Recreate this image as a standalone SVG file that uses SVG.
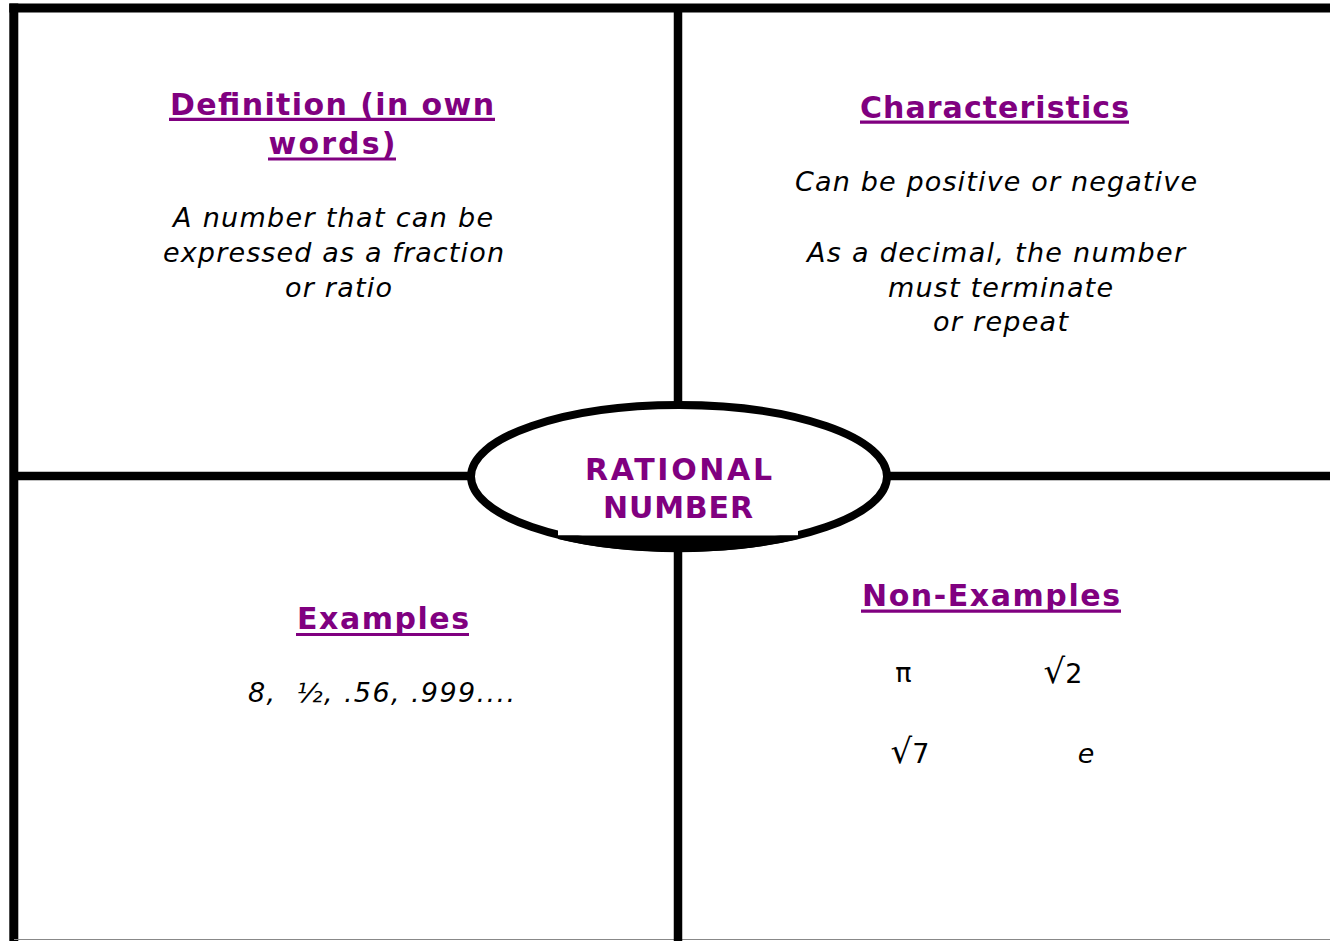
<svg xmlns="http://www.w3.org/2000/svg" width="1330" height="941" viewBox="0 0 1330 941">
<style>
.frame{stroke:#000;stroke-width:9;fill:none}
.div{stroke:#000;stroke-width:8.5;fill:none}
.head{font-family:"DejaVu Sans","Verdana",sans-serif;font-weight:bold;font-size:30px;fill:#800080;text-anchor:middle}
.ul{stroke:#800080;stroke-width:3.2}
.body{font-family:"DejaVu Sans","Verdana",sans-serif;font-style:italic;font-size:27px;fill:#000;text-anchor:middle}
.sym{font-family:"DejaVu Sans","Verdana",sans-serif;font-size:27px;fill:#000;text-anchor:middle}
.rad{font-size:34px}
</style>
<rect x="0" y="0" width="1330" height="941" fill="#fff"/>
<g id="connectors">
<line class="frame" x1="9.3" y1="8" x2="1330" y2="8"/>
<line class="frame" x1="13.8" y1="3.5" x2="13.8" y2="941"/>
<line x1="14" y1="939.5" x2="1330" y2="939.5" stroke="#888" stroke-width="1"/>
<line class="div" x1="678" y1="8" x2="678" y2="410"/>
<line class="div" x1="678" y1="545" x2="678" y2="941"/>
<line class="div" x1="14" y1="476" x2="475" y2="476"/>
<line class="div" x1="884" y1="476" x2="1330" y2="476"/>
</g>
<g id="center">
<ellipse cx="679" cy="476.5" rx="208" ry="71.5" fill="#fff" stroke="#000" stroke-width="8"/>
<rect x="558" y="522" width="240" height="13.5" fill="#fff"/>
<path d="M558,535.5 L798,535.5 L798,539 A212,75.5 0 0 1 558,539 Z" fill="#000"/>
<text class="head" x="678.5" y="480" font-size="31" textLength="187" lengthAdjust="spacing">RATIONAL</text>
<text class="head" x="678" y="518" font-size="31" textLength="150" lengthAdjust="spacing">NUMBER</text>
</g>
<g id="definition">
<text class="head" x="332" y="115" textLength="324" lengthAdjust="spacing">Definition (in own</text>
<line class="ul" x1="169" y1="119.3" x2="495" y2="119.3"/>
<text class="head" x="332" y="154" textLength="127" lengthAdjust="spacing">words)</text>
<line class="ul" x1="268" y1="159" x2="396" y2="159"/>
<text class="body" x="333" y="226.7" textLength="320" lengthAdjust="spacing">A number that can be</text>
<text class="body" x="333.5" y="261.7" textLength="341" lengthAdjust="spacing">expressed as a fraction</text>
<text class="body" x="338.5" y="296.5" textLength="107" lengthAdjust="spacing">or ratio</text>
</g>
<g id="characteristics">
<text class="head" x="994.5" y="117.7" textLength="269" lengthAdjust="spacing">Characteristics</text>
<line class="ul" x1="860" y1="122.2" x2="1129" y2="122.2"/>
<text class="body" x="996" y="190.7" textLength="402" lengthAdjust="spacing">Can be positive or negative</text>
<text class="body" x="996" y="261.7" textLength="378" lengthAdjust="spacing">As a decimal, the number</text>
<text class="body" x="1000.5" y="296.5" textLength="225" lengthAdjust="spacing">must terminate</text>
<text class="body" x="1000.5" y="331" textLength="135" lengthAdjust="spacing">or repeat</text>
</g>
<g id="examples">
<text class="head" x="383" y="629.3" textLength="172" lengthAdjust="spacing">Examples</text>
<line class="ul" x1="296" y1="634.5" x2="469" y2="634.5"/>
<text class="body" x="381.5" y="701.7" textLength="267" lengthAdjust="spacing" xml:space="preserve">8,  ½, .56, .999....</text>
</g>
<g id="non-examples">
<text class="head" x="991" y="606" textLength="258" lengthAdjust="spacing">Non-Examples</text>
<line class="ul" x1="861" y1="611.2" x2="1121" y2="611.2"/>
<text class="sym" x="903.5" y="682">π</text>
<text class="sym" x="1063" y="682.5"><tspan class="rad">√</tspan>2</text>
<text class="sym" x="910" y="763"><tspan class="rad">√</tspan>7</text>
<text class="body" x="1086" y="762.7">e</text>
</g>
</svg>
